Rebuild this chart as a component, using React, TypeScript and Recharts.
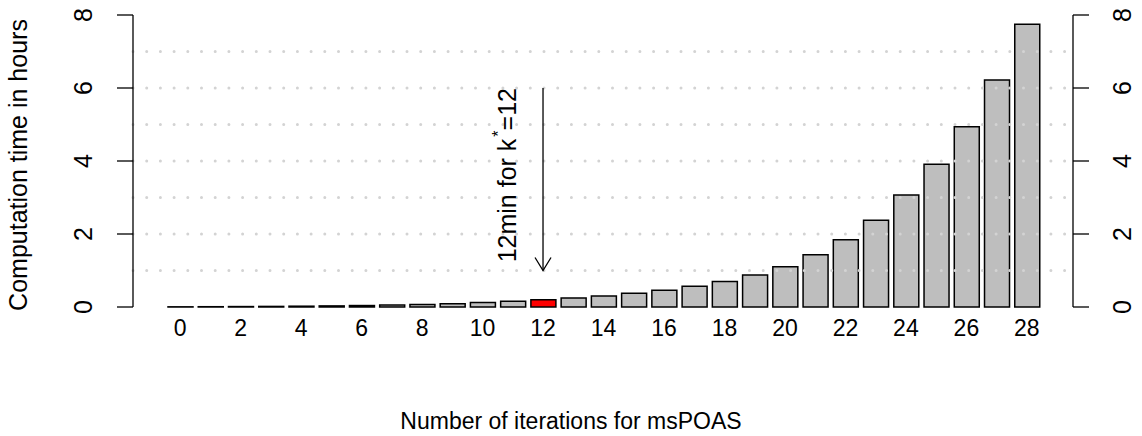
import React from 'react';
import {
  ComposedChart,
  Bar,
  Line,
  Cell,
  XAxis,
  YAxis,
  ReferenceLine,
  Label,
} from 'recharts';

// iterations k and computation time (hours)
const iterations = [
  0, 1, 2, 3, 4, 5, 6, 7, 8, 9, 10, 11, 12, 13, 14, 15, 16, 17, 18, 19, 20, 21, 22, 23, 24, 25, 26, 27, 28,
];
const hours = [
  0.005, 0.008, 0.012, 0.016, 0.022, 0.03, 0.04, 0.055, 0.07, 0.09, 0.12, 0.155, 0.2, 0.25, 0.3, 0.38, 0.46,
  0.57, 0.7, 0.88, 1.1, 1.43, 1.84, 2.38, 3.07, 3.91, 4.94, 6.22, 7.75,
];
const yTicks = [0, 2, 4, 6, 8];
const gridValues = [1, 2, 3, 4, 5, 6, 7];
const chosenK = 12;
const arrowFrom = 6;
const arrowTo = 1;

const FONT = '"Liberation Sans", Arial, Helvetica, sans-serif';
const FS_H = 23; // horizontal text
const FS_V = 25; // vertical text

const data = iterations.map((k, i) => ({ k, hours: hours[i] }));

const RotatedTick = (props: any) => {
  const { x, y, payload } = props;
  return (
    <text
      x={x}
      y={y}
      transform={`rotate(-90, ${x}, ${y})`}
      textAnchor="middle"
      fontFamily={FONT}
      fontSize={FS_V}
      fill="#000"
    >
      {payload.value}
    </text>
  );
};

const ArrowNote = (props: any) => {
  const { x1, y1, x2, y2 } = props;
  const tx = x1 - 27;
  return (
    <g>
      <line x1={x1} y1={y1} x2={x2} y2={y2} stroke="#000" strokeWidth={1.3} />
      <polyline
        points={`${x2 - 8},${y2 - 13} ${x2},${y2} ${x2 + 8},${y2 - 13}`}
        fill="none"
        stroke="#000"
        strokeWidth={1.3}
      />
      <text
        x={tx}
        y={y1}
        transform={`rotate(-90, ${tx}, ${y1})`}
        textAnchor="end"
        fontFamily={FONT}
        fontSize={FS_V}
        fill="#000"
      >
        12min for k
        <tspan dx={2} dy={-12} fontSize={16}>*</tspan>
        <tspan dy={12}>=12</tspan>
      </text>
    </g>
  );
};

export default function App() {
  return (
    <div style={{ position: 'absolute', left: 0, top: 0, width: 1142, height: 436, background: '#fff' }}>
      <ComposedChart
        width={1142}
        height={436}
        data={data}
        margin={{ top: 15, right: 9, left: 73, bottom: 0 }}
        barSize={25}
      >
        <XAxis
          dataKey="k"
          type="category"
          interval={1}
          axisLine={false}
          tickLine={false}
          tickSize={0}
          tickMargin={13}
          height={129}
          padding={{ left: 32, right: 31 }}
          tick={{ fontFamily: FONT, fontSize: FS_H, fill: '#000' }}
        >
          <Label
            content={() => (
              <text
                x={571}
                y={429}
                textAnchor="middle"
                fontFamily={FONT}
                fontSize={FS_H}
                fill="#000"
              >
                Number of iterations for msPOAS
              </text>
            )}
          />
        </XAxis>
        <YAxis
          yAxisId="left"
          orientation="left"
          domain={[0, 8]}
          ticks={yTicks}
          width={60}
          tickSize={16}
          tickMargin={25}
          axisLine={{ stroke: '#000', strokeWidth: 1.3 }}
          tickLine={{ stroke: '#000', strokeWidth: 1.3 }}
          tick={<RotatedTick />}
        >
          <Label
            content={(p: any) => {
              const vb = p.viewBox;
              const cy = vb.y + vb.height / 2 + 4;
              return (
                <text
                  x={27}
                  y={cy}
                  transform={`rotate(-90, 27, ${cy})`}
                  textAnchor="middle"
                  fontFamily={FONT}
                  fontSize={FS_V}
                  fill="#000"
                >
                  Computation time in hours
                </text>
              );
            }}
          />
        </YAxis>
        <YAxis
          yAxisId="right"
          orientation="right"
          domain={[0, 8]}
          ticks={yTicks}
          width={60}
          tickSize={16}
          tickMargin={42}
          axisLine={{ stroke: '#000', strokeWidth: 1.3 }}
          tickLine={{ stroke: '#000', strokeWidth: 1.3 }}
          tick={<RotatedTick />}
        />
        <Bar
          yAxisId="left"
          dataKey="hours"
          stroke="#000"
          strokeWidth={1.5}
          isAnimationActive={false}
        >
          {data.map((d) => (
            <Cell key={d.k} fill={d.k === chosenK ? '#ff0000' : '#bebebe'} />
          ))}
        </Bar>
        <Line
          yAxisId="right"
          dataKey="hours"
          stroke="none"
          dot={false}
          activeDot={false}
          legendType="none"
          isAnimationActive={false}
        />
        {gridValues.map((v) => (
          <ReferenceLine
            key={v}
            yAxisId="left"
            y={v}
            stroke="#d3d3d3"
            strokeWidth={3}
            strokeDasharray="0 13.7"
            strokeLinecap="round"
          />
        ))}
        <ReferenceLine
          yAxisId="left"
          segment={[
            { x: chosenK, y: arrowFrom },
            { x: chosenK, y: arrowTo },
          ]}
          shape={<ArrowNote />}
        />
      </ComposedChart>
    </div>
  );
}
